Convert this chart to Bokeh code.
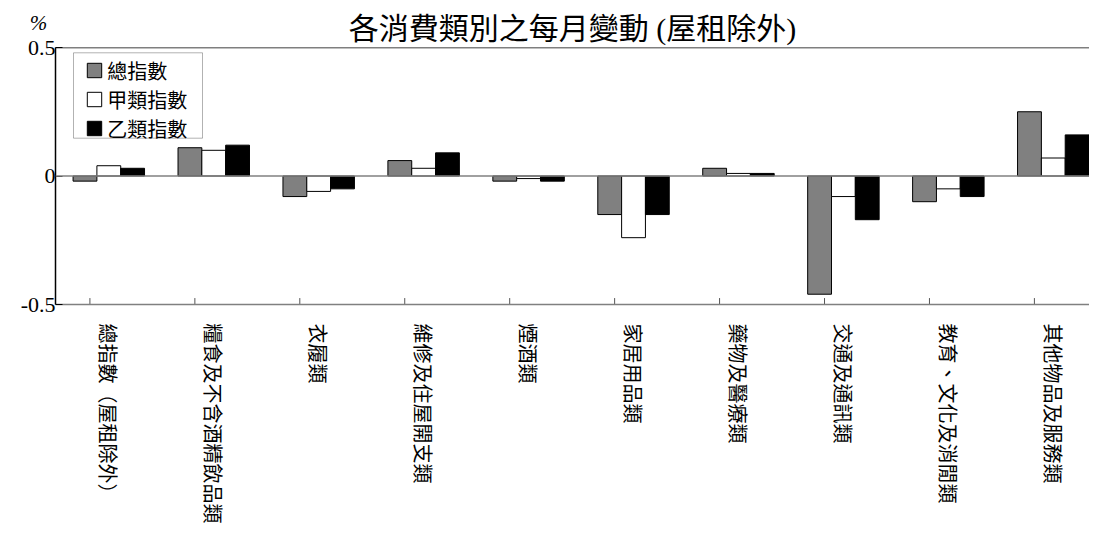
import numpy as np
from bokeh.plotting import figure
from bokeh.models import (Range1d, FixedTicker, Span, Label, BoxAnnotation, Title)
from bokeh.embed import file_html
from bokeh.resources import INLINE

categories = ["總指數（屋租除外）", "糧食及不含酒精飲品類", "衣履類", "維修及住屋開支類", "煙酒類",
              "家居用品類", "藥物及醫療類", "交通及通訊類", "教育、文化及消閒類", "其他物品及服務類"]
overall = [-0.02, 0.11, -0.08, 0.06, -0.02, -0.15, 0.03, -0.46, -0.10, 0.25]
type_a = [0.04, 0.10, -0.06, 0.03, -0.01, -0.24, 0.01, -0.08, -0.05, 0.07]
type_b = [0.03, 0.12, -0.05, 0.09, -0.02, -0.15, 0.01, -0.17, -0.08, 0.16]
series_names = ["總指數", "甲類指數", "乙類指數"]
series_colors = ["#808080", "#ffffff", "#000000"]
y_ticks = [-0.5, 0, 0.5]
y_tick_labels = ["-0.5", "0", "0.5"]

serif = "'Liberation Serif', 'Noto Sans CJK TC'"
cjk = "'Noto Sans CJK TC'"

idx = np.arange(len(categories))
bw = 0.227
y_lo, y_hi = -0.5, 0.5

p = figure(width=1089, height=526, output_backend="svg", toolbar_location=None,
           x_range=Range1d(-0.508, 9.345), y_range=Range1d(y_lo, y_hi),
           min_border_left=55, min_border_right=0, min_border_top=47, min_border_bottom=222)
p.title = Title(text="各消費類別之每月變動 (屋租除外)", align="center", text_font=serif,
                text_font_size="30px", text_font_style="normal", text_color="black", standoff=6)
p.outline_line_color = None
p.xgrid.visible = False
p.ygrid.visible = False
p.background_fill_color = "white"

for k, (vals, name, col) in enumerate(zip([overall, type_a, type_b], series_names, series_colors)):
    p.vbar(x=idx + (k - 1) * bw, top=vals, bottom=0, width=bw, fill_color=col,
           line_color="black", line_width=1, legend_label=name)

# zero line and top border
p.add_layout(Span(location=0, dimension="width", line_color="#808080", line_width=1.5))
p.add_layout(Span(location=y_hi, dimension="width", line_color="black", line_width=1.5))

# inside category ticks on the bottom axis
tick_len = 0.025
p.segment(x0=idx - 0.18, x1=idx - 0.18, y0=[y_lo] * len(idx), y1=[y_lo + tick_len] * len(idx),
          line_color="#555555", line_width=1)

# x axis
xa = p.xaxis[0]
xa.ticker = FixedTicker(ticks=list(idx))
xa.major_label_overrides = {int(i): c for i, c in zip(idx, categories)}
xa.major_label_orientation = -np.pi / 2
xa.major_label_text_font = cjk
xa.major_label_text_font_size = "20px"
xa.major_label_text_color = "black"
xa.major_label_standoff = 19
xa.major_tick_line_color = None
xa.major_tick_in = 0
xa.major_tick_out = 0
xa.minor_tick_line_color = None
xa.axis_line_color = "#808080"
xa.axis_line_width = 1.5

# y axis
ya = p.yaxis[0]
ya.ticker = FixedTicker(ticks=y_ticks)
ya.major_label_overrides = {t: s for t, s in zip(y_ticks, y_tick_labels)}
ya.major_label_text_font = serif
ya.major_label_text_font_size = "22px"
ya.major_label_text_color = "black"
ya.major_label_standoff = 0
ya.major_tick_in = 7
ya.major_tick_out = 0
ya.major_tick_line_color = "black"
ya.minor_tick_line_color = None
ya.axis_line_color = "black"
ya.axis_line_width = 1.5

# percent unit label, placed in the left side panel
p.add_layout(Label(x=38, y=282, x_units="screen", y_units="screen", text="%",
                   text_font=serif, text_font_size="21px", text_font_style="italic",
                   text_align="center", text_baseline="middle", text_color="black"), "left")

# legend frame
p.add_layout(BoxAnnotation(left=18, right=147, top=251.7, bottom=166.3,
                           left_units="screen", right_units="screen",
                           top_units="screen", bottom_units="screen",
                           fill_color=None, fill_alpha=0, line_color="black", line_width=1))

lg = p.legend[0]
lg.location = (30.2, 161.5)
lg.padding = 0
lg.margin = 0
lg.border_line_color = None
lg.background_fill_alpha = 0
lg.glyph_width = 18
lg.glyph_height = 18
lg.label_height = 29
lg.spacing = 0
lg.label_standoff = 4
lg.label_text_font = cjk
lg.label_text_font_size = "20px"
lg.label_text_color = "black"

open("out.html", "w").write(file_html(p, INLINE))
